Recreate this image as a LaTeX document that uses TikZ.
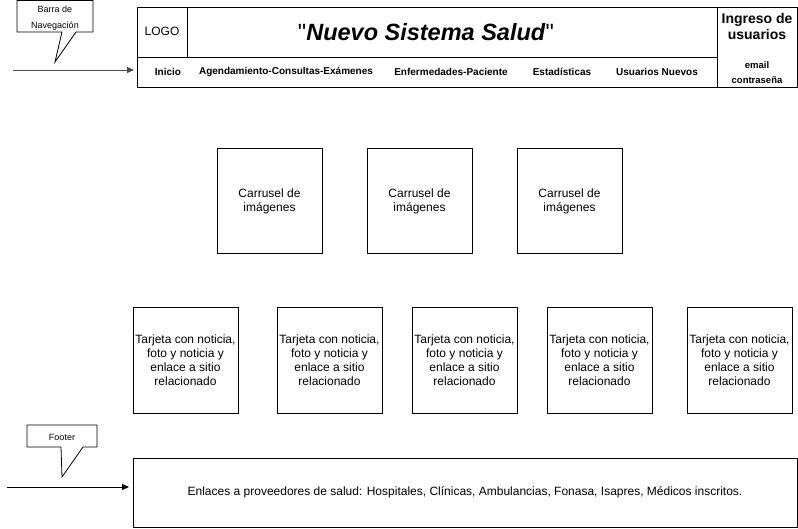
\documentclass[tikz,border=0pt]{standalone}
\usepackage{fontspec}
\setmainfont{Liberation Sans}
\newfontfamily\plainquote{Liberation Sans}
\usetikzlibrary{arrows.meta}
\begin{document}
\begin{tikzpicture}[x=1pt,y=-1pt,
  box/.style={draw=black,line width=1pt},
  lbl/.style={inner sep=0pt,align=center,font=\fontsize{12}{14}\selectfont},
  navitem/.style={inner sep=0pt,font=\fontsize{10}{12}\selectfont\bfseries},
  callout/.style={draw=black,line width=0.8pt,fill=white},
  pointer/.style={line width=1pt,-{Triangle[length=7pt,width=6pt]}},
]
\useasboundingbox (0,0) rectangle (798,528);
% header
\draw[box] (137,7) rectangle (797,87);
\draw[box] (137,57) -- (717,57);
\draw[box] (187,7) -- (187,57);
\draw[box] (717,7) -- (717,87);
\node[lbl] (logo) at (162,31) {LOGO};
\node[inner sep=0pt,font=\fontsize{23.5}{26}\selectfont] (title) at (426,32) {{\plainquote"}\textbf{\textit{Nuevo Sistema Salud}}{\plainquote"}};
\node[inner sep=0pt,align=center,font=\fontsize{14}{16}\selectfont\bfseries] (ingreso) at (757,26) {Ingreso de\\usuarios};
\node[inner sep=0pt,align=center,font=\fontsize{9.5}{15}\selectfont\bfseries] (login) at (757,72.5) {email\\contraseña};
\node[navitem] (n1) at (168,72) {Inicio};
\node[navitem] (n2) at (286,72) {Agendamiento-Consultas-Exámenes};
\node[navitem] (n3) at (451,72) {Enfermedades-Paciente};
\node[navitem] (n4) at (562,72) {Estadísticas};
\node[navitem] (n5) at (657,72) {Usuarios Nuevos};
\coordinate (headL) at (134,70);
% callout nav
\draw[callout] (17,0.5) -- (93,0.5) -- (93,32) -- (76,32) -- (55,62) -- (62,32) -- (17,32) -- cycle;
\node[inner sep=0pt,align=center,font=\fontsize{9}{16}\selectfont] (navlbl) at (55,18.5) {Barra de\\Navegación};
\coordinate (navS) at (13,70);
\draw[pointer,draw=gray!60!black] (navS) -- (headL);
% carousels
\foreach \x/\n in {217/c1,367/c2,517/c3}{
  \draw[box] (\x,148) rectangle ++(105,105);
  \node[lbl] (\n) at (\x+52.5,201) {Carrusel de\\imágenes};
}
% cards
\foreach \x/\n in {133/t1,277/t2,412/t3,547/t4,687/t5}{
  \draw[box] (\x,307) rectangle ++(105,106);
  \node[lbl] (\n) at (\x+52.5,360) {Tarjeta con noticia,\\foto y noticia y\\enlace a sitio\\relacionado};
}
% footer
\draw[box] (133,458) rectangle (797,527);
\node[lbl] (foot) at (465,492) {Enlaces a proveedores de salud: Hospitales, Clínicas, Ambulancias, Fonasa, Isapres, Médicos inscritos.};
\coordinate (footL) at (129,487);
\draw[callout] (27,425) -- (97,425) -- (97,447) -- (83,447) -- (62,477) -- (61,447) -- (27,447) -- cycle;
\node[inner sep=0pt,font=\fontsize{9}{11}\selectfont] (footlbl) at (62,437) {Footer};
\coordinate (footS) at (7,487);
\draw[pointer] (footS) -- (footL);
\end{tikzpicture}
\end{document}
